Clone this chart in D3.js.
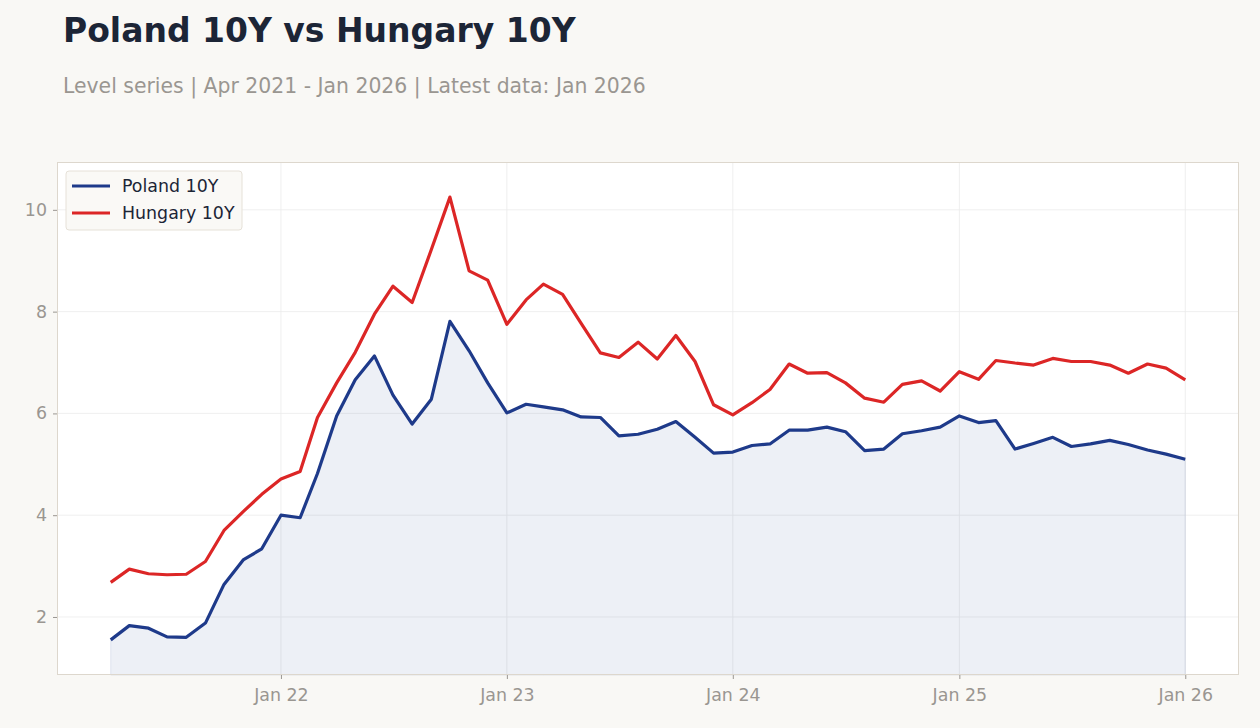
<!DOCTYPE html>
<html>
<head>
<meta charset="utf-8">
<script src="https://cdn.jsdelivr.net/npm/d3@7"></script>
<style>
  body { margin: 0; background: #f9f8f5; }
  svg { display: block; font-family: "DejaVu Sans", sans-serif; }
</style>
</head>
<body>
<svg id="chart"></svg>
<script>
// monthly 10Y yields, Apr 2021 .. Jan 2026
const startMonth = "2021-04";
const poland = [
  1.55, 1.83, 1.78, 1.61, 1.60, 1.88, 2.64, 3.12, 3.34,
  4.00, 3.95, 4.82, 5.95, 6.66, 7.13, 6.36, 5.79, 6.28, 7.81, 7.23, 6.60,
  6.01, 6.18, 6.13, 6.07, 5.93, 5.92, 5.56, 5.59, 5.69, 5.84, 5.53, 5.22,
  5.24, 5.37, 5.40, 5.67, 5.67, 5.73, 5.64, 5.27, 5.30, 5.60, 5.66, 5.73,
  5.95, 5.82, 5.86, 5.30, 5.41, 5.53, 5.35, 5.40, 5.47, 5.39, 5.28, 5.20,
  5.10
];
const hungary = [
  2.68, 2.94, 2.85, 2.83, 2.84, 3.09, 3.70, 4.07, 4.41,
  4.71, 4.86, 5.92, 6.60, 7.20, 7.95, 8.50, 8.18, 9.22, 10.25, 8.80, 8.62,
  7.75, 8.23, 8.54, 8.34, 7.77, 7.19, 7.10, 7.40, 7.07, 7.53, 7.02, 6.17,
  5.97, 6.21, 6.47, 6.97, 6.79, 6.80, 6.60, 6.30, 6.22, 6.57, 6.64, 6.44,
  6.82, 6.67, 7.04, 6.99, 6.95, 7.08, 7.02, 7.02, 6.95, 6.79, 6.97, 6.89,
  6.66
];
const yTicks = [2, 4, 6, 8, 10];
const xTickYears = [2022, 2023, 2024, 2025, 2026];

const W = 1260, H = 728;
const plot = {left: 57, top: 162, right: 1239, bottom: 675};

const svg = d3.select('#chart').attr('width', W).attr('height', H);

const parseMonth = d3.timeParse("%Y-%m");
const t0 = parseMonth(startMonth);
const dates = poland.map((d, i) => d3.timeMonth.offset(t0, i));

const t1 = dates[dates.length - 1];
const pad = (t1 - t0) * 0.05;
const x = d3.scaleTime()
  .domain([new Date(+t0 - pad), new Date(+t1 + pad)])
  .range([plot.left, plot.right]);
const y = d3.scaleLinear().domain([0.86, 10.94]).range([plot.bottom, plot.top]);

// titles
svg.append('text').attr('x', 63).attr('y', 42)
  .attr('font-size', 33).attr('font-weight', 'bold').attr('fill', '#1c2536')
  .text('Poland 10Y vs Hungary 10Y');
svg.append('text').attr('x', 63).attr('y', 93)
  .attr('font-size', 20.4).attr('fill', '#9a9691')
  .text('Level series | Apr 2021 - Jan 2026 | Latest data: Jan 2026');

// plot background
svg.append('rect')
  .attr('x', plot.left).attr('y', plot.top)
  .attr('width', plot.right - plot.left).attr('height', plot.bottom - plot.top)
  .attr('fill', '#ffffff');

// grid
svg.append('g').selectAll('line').data(yTicks).enter().append('line')
  .attr('x1', plot.left).attr('x2', plot.right)
  .attr('y1', d => y(d)).attr('y2', d => y(d))
  .attr('stroke', '#ebebeb').attr('stroke-width', 0.8);
const xTickDates = xTickYears.map(yr => new Date(yr, 0, 1));
svg.append('g').selectAll('line').data(xTickDates).enter().append('line')
  .attr('y1', plot.top).attr('y2', plot.bottom)
  .attr('x1', d => x(d)).attr('x2', d => x(d))
  .attr('stroke', '#ebebeb').attr('stroke-width', 0.8);

const rows = dates.map((d, i) => ({date: d, pl: poland[i], hu: hungary[i]}));

// area under Poland
svg.append('path').datum(rows)
  .attr('d', d3.area().x(d => x(d.date)).y0(plot.bottom).y1(d => y(d.pl)))
  .attr('fill', '#1f3a8a').attr('fill-opacity', 0.08)
  .attr('stroke', '#1f3a8a').attr('stroke-opacity', 0.1);

const lineFor = key => d3.line().x(d => x(d.date)).y(d => y(d[key]));
svg.append('path').datum(rows).attr('d', lineFor('hu'))
  .attr('fill', 'none').attr('stroke', '#dc2626').attr('stroke-width', 3.2)
  .attr('stroke-linejoin', 'round');
svg.append('path').datum(rows).attr('d', lineFor('pl'))
  .attr('fill', 'none').attr('stroke', '#1e3a8a').attr('stroke-width', 3.2)
  .attr('stroke-linejoin', 'round');

// frame
svg.append('rect')
  .attr('x', plot.left + 0.5).attr('y', plot.top + 0.5)
  .attr('width', plot.right - plot.left - 1).attr('height', plot.bottom - plot.top - 1)
  .attr('fill', 'none').attr('stroke', '#ddd7cd').attr('stroke-width', 1);

// axes
const yAxis = svg.append('g').attr('transform', `translate(${plot.left},0)`)
  .call(d3.axisLeft(y).tickValues(yTicks).tickSize(4).tickPadding(6));
const xAxis = svg.append('g').attr('transform', `translate(0,${plot.bottom})`)
  .call(d3.axisBottom(x).tickValues(xTickDates).tickSize(4).tickPadding(10)
    .tickFormat(d3.timeFormat('%b %y')));
[yAxis, xAxis].forEach(g => {
  g.select('.domain').remove();
  g.selectAll('line').attr('stroke', '#9a9691');
  g.selectAll('text').attr('fill', '#9a9691').attr('font-size', 17.4)
    .attr('font-family', '"DejaVu Sans", sans-serif');
});

// legend
const legend = svg.append('g').attr('transform', 'translate(66,171)');
legend.append('rect').attr('width', 176).attr('height', 59).attr('rx', 3)
  .attr('fill', '#faf9f6').attr('stroke', '#e6e1d8');
const items = [
  {name: 'Poland 10Y', color: '#1e3a8a'},
  {name: 'Hungary 10Y', color: '#dc2626'}
];
items.forEach((it, i) => {
  const gy = 15 + i * 27;
  legend.append('line').attr('x1', 6).attr('x2', 44).attr('y1', gy).attr('y2', gy)
    .attr('stroke', it.color).attr('stroke-width', 3);
  legend.append('text').attr('x', 56).attr('y', gy + 6)
    .attr('font-size', 17.4).attr('fill', '#1c2536').text(it.name);
});
</script>
</body>
</html>
